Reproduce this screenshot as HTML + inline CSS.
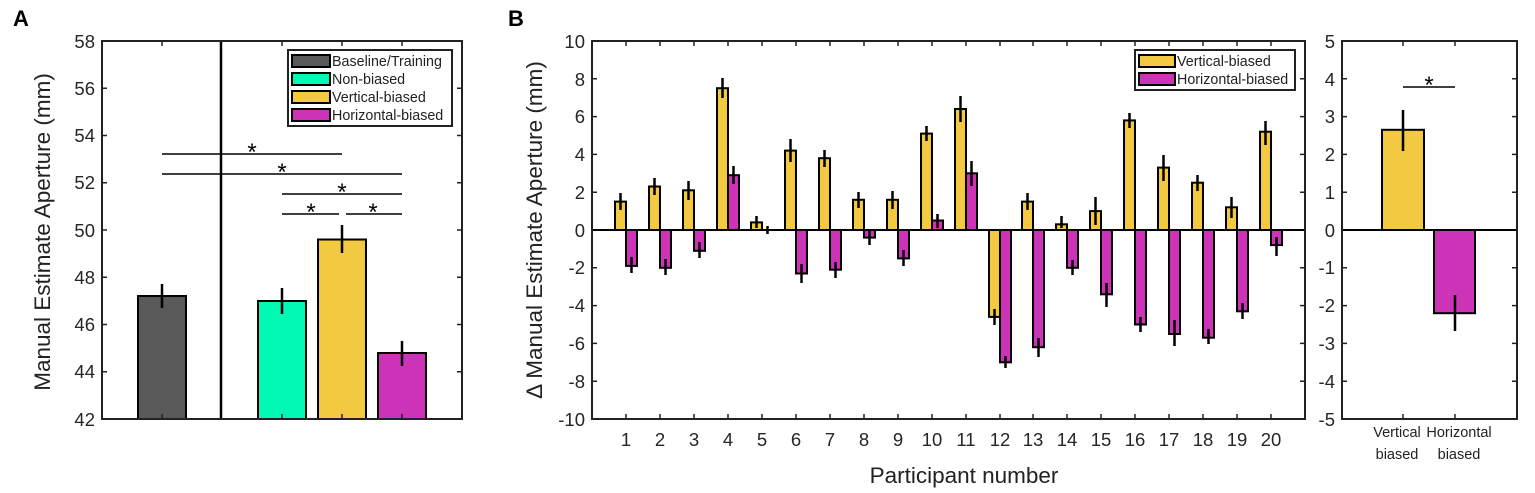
<!DOCTYPE html>
<html><head><meta charset="utf-8"><style>
body{margin:0;background:#fff;}
svg{display:block;font-family:"Liberation Sans",Arial,sans-serif;}
.t{font-size:18.5px;fill:#262626;}
.s{font-size:14.3px;fill:#222;}
</style></head><body>
<svg width="1535" height="493" viewBox="0 0 1535 493">
<text x="13" y="26" font-size="22" font-weight="bold">A</text>
<text x="508" y="26" font-size="22" font-weight="bold">B</text>

<!-- Panel A -->
<g stroke="#000" stroke-width="2">
<rect x="138" y="296" width="48" height="123" fill="#595959"/>
<rect x="258" y="301" width="48" height="118" fill="#00F9B3"/>
<rect x="318" y="239.5" width="48" height="179.5" fill="#F2C940"/>
<rect x="378" y="353" width="48" height="66" fill="#CC33B6"/>
</g>
<g stroke="#000" stroke-width="2.5">
<line x1="162" y1="284" x2="162" y2="308"/>
<line x1="282" y1="288" x2="282" y2="314"/>
<line x1="342" y1="225" x2="342" y2="253"/>
<line x1="402" y1="341" x2="402" y2="366"/>
</g>
<line x1="221" y1="41" x2="221" y2="419" stroke="#000" stroke-width="2.5"/>
<g stroke="#000" stroke-width="1.6">
<line x1="162" y1="154" x2="342" y2="154"/>
<line x1="162" y1="174" x2="402" y2="174"/>
<line x1="282" y1="194" x2="402" y2="194"/>
<line x1="282" y1="214" x2="339" y2="214"/>
<line x1="346" y1="214" x2="402" y2="214"/>
</g>
<g font-size="24" text-anchor="middle">
<text x="252" y="160">*</text><text x="282" y="180">*</text><text x="342" y="200">*</text><text x="311" y="220">*</text><text x="373" y="220">*</text>
</g>
<rect x="102" y="41" width="360" height="378" fill="none" stroke="#222" stroke-width="2"/>
<g stroke="#222" stroke-width="1.5">
<path d="M102 371.75h5M102 324.5h5M102 277.25h5M102 230h5M102 182.75h5M102 135.5h5M102 88.25h5"/>
<path d="M462 371.75h-5M462 324.5h-5M462 277.25h-5M462 230h-5M462 182.75h-5M462 135.5h-5M462 88.25h-5"/>
<path d="M162 419v-5M282 419v-5M342 419v-5M402 419v-5M162 41v5M282 41v5M342 41v5M402 41v5"/>
</g>
<g class="t" text-anchor="end">
<text x="95" y="426">42</text><text x="95" y="378">44</text><text x="95" y="331">46</text><text x="95" y="284">48</text><text x="95" y="237">50</text><text x="95" y="189">52</text><text x="95" y="142">54</text><text x="95" y="95">56</text><text x="95" y="48">58</text>
</g>
<text transform="translate(50,232) rotate(-90)" font-size="22.5" fill="#222" text-anchor="middle">Manual Estimate Aperture (mm)</text>
<!-- legend A -->
<rect x="288" y="50" width="164" height="76" fill="#fff" stroke="#222" stroke-width="2"/>
<g stroke="#000" stroke-width="2">
<rect x="292" y="55" width="38" height="12" fill="#595959"/>
<rect x="292" y="73" width="38" height="12" fill="#00F9B3"/>
<rect x="292" y="91" width="38" height="12" fill="#F2C940"/>
<rect x="292" y="109" width="38" height="12" fill="#CC33B6"/>
</g>
<g class="s"><text x="332" y="66">Baseline/Training</text><text x="332" y="84">Non-biased</text><text x="332" y="102">Vertical-biased</text><text x="332" y="120">Horizontal-biased</text></g>

<!-- Panel B bars -->
<g stroke="#000" stroke-width="2">
<g fill="#F2C940">
<rect x="615" y="201.6" width="11" height="28.4"/>
<rect x="649" y="186.5" width="11" height="43.5"/>
<rect x="683" y="190.3" width="11" height="39.7"/>
<rect x="717" y="88.2" width="11" height="141.8"/>
<rect x="751" y="222.4" width="11" height="7.6"/>
<rect x="785" y="150.6" width="11" height="79.4"/>
<rect x="819" y="158.2" width="11" height="71.8"/>
<rect x="853" y="199.8" width="11" height="30.2"/>
<rect x="887" y="199.8" width="11" height="30.2"/>
<rect x="921" y="133.6" width="11" height="96.4"/>
<rect x="955" y="109" width="11" height="121"/>
<rect x="989" y="230" width="11" height="86.9"/>
<rect x="1022" y="201.6" width="11" height="28.4"/>
<rect x="1056" y="224.3" width="11" height="5.7"/>
<rect x="1090" y="211.1" width="11" height="18.9"/>
<rect x="1124" y="120.4" width="11" height="109.6"/>
<rect x="1158" y="167.6" width="11" height="62.4"/>
<rect x="1192" y="182.7" width="11" height="47.3"/>
<rect x="1226" y="207.3" width="11" height="22.7"/>
<rect x="1260" y="131.7" width="11" height="98.3"/>
</g>
<g fill="#CC33B6">
<rect x="626" y="230" width="11" height="35.9"/>
<rect x="660" y="230" width="11" height="37.8"/>
<rect x="694" y="230" width="11" height="20.8"/>
<rect x="728" y="175.2" width="11" height="54.8"/>
<rect x="796" y="230" width="11" height="43.5"/>
<rect x="830" y="230" width="11" height="39.7"/>
<rect x="864" y="230" width="11" height="7.6"/>
<rect x="898" y="230" width="11" height="28.4"/>
<rect x="932" y="220.5" width="11" height="9.5"/>
<rect x="966" y="173.3" width="11" height="56.7"/>
<rect x="1000" y="230" width="11" height="132.3"/>
<rect x="1033" y="230" width="11" height="117.2"/>
<rect x="1067" y="230" width="11" height="37.8"/>
<rect x="1101" y="230" width="11" height="64.3"/>
<rect x="1135" y="230" width="11" height="94.5"/>
<rect x="1169" y="230" width="11" height="104"/>
<rect x="1203" y="230" width="11" height="107.7"/>
<rect x="1237" y="230" width="11" height="81.3"/>
<rect x="1271" y="230" width="11" height="15.1"/>
</g>
</g>
<g stroke="#000" stroke-width="2.5">
<path d="M620.5 193v17M654.5 178v17M688.5 181v19M722.5 78v20M756.5 216v12M790.5 139v23M824.5 150v17M858.5 192v16M892.5 191v18M926.5 126v15M960.5 96v26M994.5 309v16M1027.5 193v17M1061.5 216v12M1095.5 197v28M1129.5 113v15M1163.5 155v26M1197.5 175v16M1231.5 197v21M1265.5 121v24"/>
<path d="M631.5 257v16M665.5 259v16M699.5 242v16M733.5 166v18M767.5 226v8M801.5 264v19M835.5 262v16M869.5 230v15M903.5 250v16M937.5 214v14M971.5 161v25M1005.5 356v12M1038.5 338v19M1072.5 260v15M1106.5 283v24M1140.5 317v15M1174.5 320v26M1208.5 329v15M1242.5 303v16M1276.5 237v19"/>
</g>
<line x1="592" y1="230" x2="1305" y2="230" stroke="#000" stroke-width="2"/>
<rect x="592" y="41" width="713" height="378" fill="none" stroke="#222" stroke-width="2"/>
<g stroke="#222" stroke-width="1.5">
<path d="M592 78.8h5M592 116.6h5M592 154.4h5M592 192.2h5M592 267.8h5M592 305.6h5M592 343.4h5M592 381.2h5"/>
<path d="M1305 78.8h-5M1305 116.6h-5M1305 154.4h-5M1305 192.2h-5M1305 267.8h-5M1305 305.6h-5M1305 343.4h-5M1305 381.2h-5"/>
<path d="M626 419v-5M660 419v-5M694 419v-5M728 419v-5M762 419v-5M796 419v-5M830 419v-5M864 419v-5M898 419v-5M932 419v-5M966 419v-5M1000 419v-5M1033 419v-5M1067 419v-5M1101 419v-5M1135 419v-5M1169 419v-5M1203 419v-5M1237 419v-5M1271 419v-5"/>
<path d="M626 41v5M660 41v5M694 41v5M728 41v5M762 41v5M796 41v5M830 41v5M864 41v5M898 41v5M932 41v5M966 41v5M1000 41v5M1033 41v5M1067 41v5M1101 41v5M1135 41v5M1169 41v5M1203 41v5M1237 41v5M1271 41v5"/>
</g>
<g class="t" text-anchor="end">
<text x="585" y="48">10</text><text x="585" y="86">8</text><text x="585" y="123">6</text><text x="585" y="161">4</text><text x="585" y="199">2</text><text x="585" y="237">0</text><text x="585" y="274">-2</text><text x="585" y="312">-4</text><text x="585" y="350">-6</text><text x="585" y="388">-8</text><text x="585" y="426">-10</text>
</g>
<g class="t" text-anchor="middle">
<text x="626" y="446">1</text><text x="660" y="446">2</text><text x="694" y="446">3</text><text x="728" y="446">4</text><text x="762" y="446">5</text><text x="796" y="446">6</text><text x="830" y="446">7</text><text x="864" y="446">8</text><text x="898" y="446">9</text><text x="932" y="446">10</text><text x="966" y="446">11</text><text x="1000" y="446">12</text><text x="1033" y="446">13</text><text x="1067" y="446">14</text><text x="1101" y="446">15</text><text x="1135" y="446">16</text><text x="1169" y="446">17</text><text x="1203" y="446">18</text><text x="1237" y="446">19</text><text x="1271" y="446">20</text>
</g>
<text x="964" y="483" font-size="22.5" fill="#222" text-anchor="middle">Participant number</text>
<text transform="translate(542,230) rotate(-90)" font-size="22.5" fill="#222" text-anchor="middle">Δ Manual Estimate Aperture (mm)</text>
<rect x="1135" y="50" width="160" height="40" fill="#fff" stroke="#222" stroke-width="2"/>
<g stroke="#000" stroke-width="2">
<rect x="1139" y="55" width="36" height="12" fill="#F2C940"/>
<rect x="1139" y="73" width="36" height="12" fill="#CC33B6"/>
</g>
<g class="s"><text x="1177" y="66">Vertical-biased</text><text x="1177" y="84">Horizontal-biased</text></g>

<!-- Panel C -->
<g stroke="#000" stroke-width="2">
<rect x="1382" y="129.8" width="42" height="100.2" fill="#F2C940"/>
<rect x="1434" y="230" width="41" height="83.2" fill="#CC33B6"/>
</g>
<g stroke="#000" stroke-width="2.5"><path d="M1403 110v41M1455 295v36"/></g>
<line x1="1342" y1="230" x2="1517" y2="230" stroke="#000" stroke-width="2"/>
<line x1="1403" y1="87" x2="1455" y2="87" stroke="#000" stroke-width="1.6"/>
<text x="1429" y="93" font-size="24" text-anchor="middle">*</text>
<rect x="1342" y="41" width="175" height="378" fill="none" stroke="#222" stroke-width="2"/>
<g stroke="#222" stroke-width="1.5">
<path d="M1342 78.8h5M1342 116.6h5M1342 154.4h5M1342 192.2h5M1342 267.8h5M1342 305.6h5M1342 343.4h5M1342 381.2h5"/>
<path d="M1517 78.8h-5M1517 116.6h-5M1517 154.4h-5M1517 192.2h-5M1517 267.8h-5M1517 305.6h-5M1517 343.4h-5M1517 381.2h-5"/>
<path d="M1403 419v-5M1455 419v-5M1403 41v5M1455 41v5"/>
</g>
<g class="t" text-anchor="end">
<text x="1335" y="48">5</text><text x="1335" y="86">4</text><text x="1335" y="123">3</text><text x="1335" y="161">2</text><text x="1335" y="199">1</text><text x="1335" y="237">0</text><text x="1335" y="274">-1</text><text x="1335" y="312">-2</text><text x="1335" y="350">-3</text><text x="1335" y="388">-4</text><text x="1335" y="426">-5</text>
</g>
<g font-size="14.5" fill="#222" text-anchor="middle">
<text x="1397" y="437">Vertical</text><text x="1397" y="459">biased</text>
<text x="1459" y="437">Horizontal</text><text x="1459" y="459">biased</text>
</g>
</svg>
</body></html>
